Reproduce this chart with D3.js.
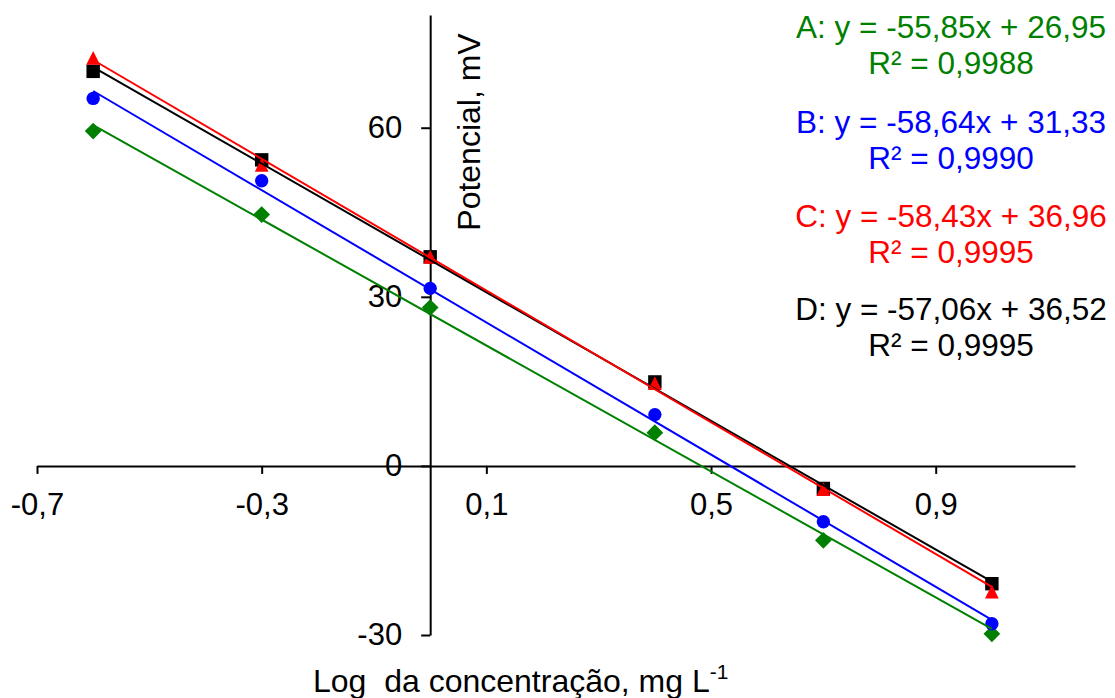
<!DOCTYPE html>
<html>
<head>
<meta charset="utf-8">
<script src="https://cdn.jsdelivr.net/npm/d3@7"></script>
<style>
  html, body { margin: 0; padding: 0; background: #fff; }
  svg text { font-family: "Liberation Sans", Arial, sans-serif; }
</style>
</head>
<body>
<svg id="chart" width="1115" height="698"></svg>
<script>
// Log of concentration (x) for each measurement
const logConc = [-0.6, -0.3, 0, 0.4, 0.7, 1.0];

// Measured potential (mV) for each electrode
const seriesA = [59.4, 44.6, 28.1, 5.9, -13.2, -29.8];
const seriesB = [65.2, 50.6, 31.5, 9.1, -9.9, -28.0];
const seriesC = [72.4, 53.4, 37.1, 14.7, -4.1, -22.3];
const seriesD = [70.0, 54.3, 37.1, 14.9, -4.0, -20.9];

// Linear fits: slope, intercept, R²
const seriesNames = ["A", "B", "C", "D"];
const slopes = [-55.85, -58.64, -58.43, -57.06];
const intercepts = [26.95, 31.33, 36.96, 36.52];
const r2Values = ["0,9988", "0,9990", "0,9995", "0,9995"];

// Axis ticks
const xTicks = [-0.7, -0.3, 0.1, 0.5, 0.9];
const yTicks = [-30, 0, 30, 60];

const colors = ["#008000", "#0000FF", "#FF0000", "#000000"];

const svg = d3.select("#chart");
const x = d3.scaleLinear().domain([-0.7, 1.148]).range([37, 1075]);
const y = d3.scaleLinear().domain([-30, 80]).range([635, 15]);

// Decimal comma and plain hyphen for negatives
const commaFmt = v => String(v).replace(".", ",");

// X axis crossing at y = 0
const gx = svg.append("g")
  .attr("transform", `translate(0,${y(0)})`)
  .call(d3.axisBottom(x).tickValues(xTicks).tickSize(8).tickSizeOuter(0)
    .tickPadding(19).tickFormat(commaFmt));
// Y axis crossing at x = 0
const gy = svg.append("g")
  .attr("transform", `translate(${x(0)},0)`)
  .call(d3.axisLeft(y).tickValues(yTicks).tickSize(9).tickSizeOuter(0)
    .tickPadding(19).tickFormat(commaFmt));

[gx, gy].forEach(g => {
  g.select(".domain").attr("stroke", "#000").attr("stroke-width", 2);
  g.selectAll(".tick line").attr("stroke", "#000").attr("stroke-width", 2);
  g.selectAll(".tick text").attr("fill", "#000").style("font-size", "31px");
});

// Marker shapes: diamond, circle, triangle, square
const triangleBox = {
  draw(ctx, size) {
    const s = Math.sqrt(size), h = s / 2;
    ctx.moveTo(0, -h);
    ctx.lineTo(h, h);
    ctx.lineTo(-h, h);
    ctx.closePath();
  }
};
const markerDefs = [
  { type: d3.symbolSquare, size: 140, rotate: 45 },
  { type: d3.symbolCircle, size: 140, rotate: 0 },
  { type: triangleBox, size: 190, rotate: 0 },
  { type: d3.symbolSquare, size: 180, rotate: 0 }
];

const allSeries = [seriesA, seriesB, seriesC, seriesD];
const drawOrder = [0, 1, 3, 2];

// Markers
drawOrder.forEach(i => {
  const m = markerDefs[i];
  const sym = d3.symbol().type(m.type).size(m.size);
  svg.append("g").selectAll("path")
    .data(logConc.map((v, k) => [v, allSeries[i][k]]))
    .join("path")
    .attr("d", sym)
    .attr("fill", colors[i])
    .attr("transform", d => `translate(${x(d[0])},${y(d[1])}) rotate(${m.rotate})`);
});

// Trendlines across the measured range
const line = d3.line().x(d => x(d[0])).y(d => y(d[1]));
drawOrder.forEach(i => {
  const ends = d3.extent(logConc).map(v => [v, slopes[i] * v + intercepts[i]]);
  svg.append("path")
    .attr("d", line(ends))
    .attr("fill", "none")
    .attr("stroke", colors[i])
    .attr("stroke-width", 2);
});

// Equations
const eqFmt = v => Math.abs(v).toFixed(2).replace(".", ",");
const eqTop = [38, 133, 227, 320];
seriesNames.forEach((n, i) => {
  const sign = slopes[i] < 0 ? "-" : "";
  svg.append("text")
    .attr("x", 951).attr("y", eqTop[i])
    .attr("text-anchor", "middle")
    .attr("fill", colors[i])
    .style("font-size", "31.5px")
    .text(`${n}: y = ${sign}${eqFmt(slopes[i])}x + ${eqFmt(intercepts[i])}`);
  svg.append("text")
    .attr("x", 951).attr("y", eqTop[i] + 36)
    .attr("text-anchor", "middle")
    .attr("fill", colors[i])
    .style("font-size", "31.5px")
    .text(`R² = ${r2Values[i]}`);
});

// Axis titles
svg.append("text")
  .attr("transform", "translate(480,132) rotate(-90)")
  .attr("text-anchor", "middle")
  .attr("fill", "#000")
  .style("font-size", "32px")
  .text("Potencial, mV");

const xt = svg.append("text")
  .attr("x", 313).attr("y", 692)
  .attr("fill", "#000")
  .style("font-size", "32px")
  .style("white-space", "pre");
xt.append("tspan").text("Log  da concentração, mg L");
xt.append("tspan").attr("dy", -13).style("font-size", "21px").text("-1");
</script>
</body>
</html>
